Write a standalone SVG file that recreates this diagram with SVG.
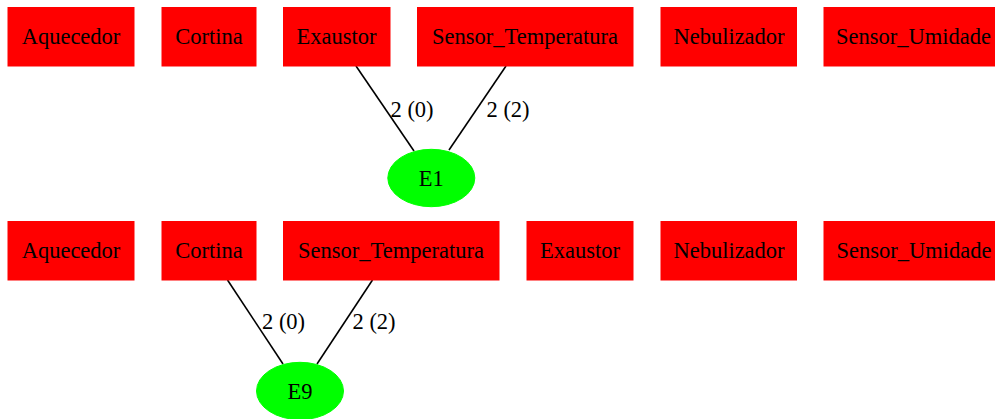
<svg xmlns="http://www.w3.org/2000/svg" width="995" height="419" viewBox="0 0 995 419">
<style>
.box{fill:#ff0000;stroke:#ff0000;stroke-width:1}
.ell{fill:#00ff00;stroke:#00ff00;stroke-width:1}
text{font-family:"Liberation Serif","Times New Roman",serif;font-size:22.5px;fill:#000}
.c{text-anchor:middle}
.edge{stroke:#000;stroke-width:1.6;fill:none}
</style>
<rect width="995" height="419" fill="#fff"/>
<g id="edges">
<line class="edge" x1="356" y1="66" x2="414" y2="151"/>
<line class="edge" x1="506" y1="66" x2="449" y2="150"/>
<text x="390.5" y="116.5">2 (0)</text>
<text x="486.5" y="116.5">2 (2)</text>
<line class="edge" x1="227.5" y1="280" x2="283" y2="364"/>
<line class="edge" x1="372.5" y1="280" x2="317" y2="364"/>
<text x="262" y="328.5">2 (0)</text>
<text x="352.5" y="328.5">2 (2)</text>
</g>
<g id="r1_Aquecedor"><rect class="box" x="8" y="7.5" width="126" height="58.5"/><text class="c" x="71" y="43.5">Aquecedor</text></g>
<g id="r1_Cortina"><rect class="box" x="162" y="7.5" width="94" height="58.5"/><text class="c" x="209" y="43.5">Cortina</text></g>
<g id="r1_Exaustor"><rect class="box" x="283.5" y="7.5" width="106.5" height="58.5"/><text class="c" x="336.5" y="43.5">Exaustor</text></g>
<g id="r1_Sensor_Temperatura"><rect class="box" x="417.5" y="7.5" width="215.5" height="58.5"/><text class="c" x="525" y="43.5">Sensor_Temperatura</text></g>
<g id="r1_Nebulizador"><rect class="box" x="661" y="7.5" width="135.5" height="58.5"/><text class="c" x="729" y="43.5">Nebulizador</text></g>
<g id="r1_Sensor_Umidade"><rect class="box" x="824" y="7.5" width="180" height="58.5"/><text class="c" x="913.5" y="43.5">Sensor_Umidade</text></g>
<g id="E1"><ellipse class="ell" cx="431.3" cy="178" rx="43.5" ry="28.7"/><text class="c" x="431.3" y="185.5">E1</text></g>
<g id="r2_Aquecedor"><rect class="box" x="8" y="221.5" width="126" height="58.5"/><text class="c" x="71" y="257.8">Aquecedor</text></g>
<g id="r2_Cortina"><rect class="box" x="162" y="221.5" width="94" height="58.5"/><text class="c" x="209" y="257.8">Cortina</text></g>
<g id="r2_Sensor_Temperatura"><rect class="box" x="283.5" y="221.5" width="215.5" height="58.5"/><text class="c" x="391" y="257.8">Sensor_Temperatura</text></g>
<g id="r2_Exaustor"><rect class="box" x="527" y="221.5" width="106" height="58.5"/><text class="c" x="580" y="257.8">Exaustor</text></g>
<g id="r2_Nebulizador"><rect class="box" x="661" y="221.5" width="135.5" height="58.5"/><text class="c" x="729" y="257.8">Nebulizador</text></g>
<g id="r2_Sensor_Umidade"><rect class="box" x="824" y="221.5" width="180" height="58.5"/><text class="c" x="914" y="257.8">Sensor_Umidade</text></g>
<g id="E9"><ellipse class="ell" cx="300" cy="391" rx="43.5" ry="28.7"/><text class="c" x="300" y="399">E9</text></g>
</svg>
